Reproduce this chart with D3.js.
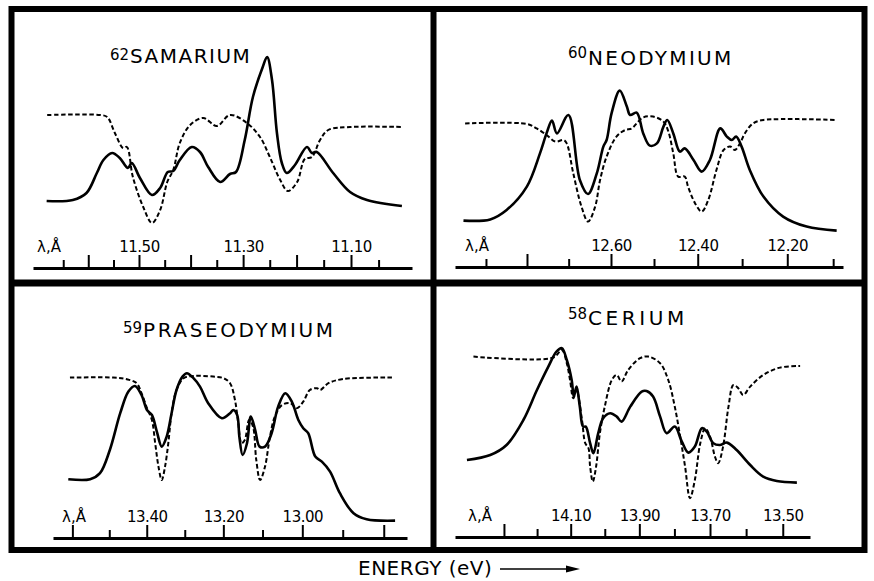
<!DOCTYPE html>
<html>
<head>
<meta charset="utf-8">
<script src="https://cdn.jsdelivr.net/npm/d3@7"></script>
<style>
  body { margin: 0; background: #fff; }
  svg { display: block; font-family: "DejaVu Sans", sans-serif; }
</style>
</head>
<body>
<svg id="chart" width="874" height="581"></svg>
<script>
var HC = 12398.4; // eV*Angstrom

// 62 Samarium (energy in eV, intensity arb.)
var smSolidE = [1061.2, 1066.0, 1068.5, 1070.4, 1071.6, 1073.2, 1074.6, 1076.1, 1076.8, 1078.3, 1080.5, 1082.0, 1083.4, 1084.4, 1085.6, 1087.8, 1089.3, 1090.8, 1093.0, 1094.8, 1095.9, 1097.5, 1099.0, 1100.8, 1101.6, 1102.5, 1103.4, 1104.3, 1105.2, 1106.7, 1108.9, 1109.8, 1110.7, 1113.7, 1116.8, 1119.9, 1126.3];
var smSolidI = [19.5, 20, 23.5, 33.5, 40, 43.5, 41, 36, 38.5, 31, 22.5, 26, 34, 34.5, 40, 46.5, 44, 36.5, 29, 33, 34, 50, 71.5, 86.5, 91.5, 80, 53.5, 38.5, 33.5, 37.5, 46.5, 43.5, 44, 33.5, 24, 20, 17];
var smDashE = [1061.3, 1071.0, 1072.3, 1073.7, 1075.2, 1075.9, 1077.0, 1078.9, 1080.5, 1082.0, 1083.3, 1084.4, 1085.6, 1087.5, 1089.9, 1092.4, 1094.8, 1097.9, 1100.3, 1102.1, 1104.0, 1105.4, 1107.1, 1108.5, 1109.8, 1111.3, 1112.8, 1116.8, 1126.5];
var smDashI = [62.5, 62.5, 61.5, 53.5, 46, 46.5, 31.5, 16.5, 8.5, 15, 29, 35, 48.5, 57.5, 61, 57, 62.5, 58.5, 51.5, 41.5, 30, 24.5, 29, 40.5, 41.5, 50, 55, 56.5, 56.5];
var smMinor = [11.65, 11.55, 11.45, 11.35, 11.25, 11.15, 11.05];
var smMajor = [11.60, 11.50, 11.40, 11.30, 11.20, 11.10];
var smLabels = [11.50, 11.30, 11.10];

// 60 Neodymium
var ndSolidE = [957.0, 961.9, 964.9, 968.6, 971.0, 972.2, 973.2, 974.1, 976.2, 978.3, 979.8, 981.4, 982.6, 983.2, 984.1, 985.6, 986.9, 987.5, 988.7, 989.9, 991.1, 992.4, 993.6, 994.3, 995.4, 996.6, 997.5, 999.1, 1000.6, 1002.1, 1004.0, 1005.2, 1006.1, 1006.9, 1007.9, 1009.4, 1011.9, 1015.5, 1019.8, 1025.3];
var ndSolidI = [9.7, 10.3, 15, 26.7, 43.3, 53.3, 59.7, 53.3, 62.5, 30, 23, 33.3, 46.7, 50, 63.3, 74.7, 66.7, 62.5, 63.7, 53.3, 47.2, 48.3, 56.7, 60, 53.3, 44.2, 45.8, 40, 34.2, 40, 55.8, 51.7, 50, 51.7, 46.7, 35, 21.7, 11.7, 6.7, 4.7];
var ndDashE = [957.3, 968.6, 970.4, 972.2, 973.8, 975.3, 975.9, 977.1, 978.6, 979.8, 981.1, 982.0, 983.2, 985.0, 986.6, 987.8, 988.7, 989.9, 991.7, 993.6, 994.5, 995.4, 996.3, 997.5, 998.1, 999.4, 1000.6, 1001.8, 1003.3, 1004.6, 1005.8, 1006.7, 1007.6, 1008.5, 1010.0, 1011.9, 1025.3];
var ndDashI = [58.3, 58, 55.8, 52.5, 49.2, 50, 48.3, 33.3, 16.7, 9.2, 16.7, 30, 41.7, 51.7, 55, 55.8, 58.3, 61.3, 61.7, 59.2, 54.2, 43.3, 31.7, 31.7, 26.7, 18.3, 14.2, 20, 35, 45, 46.7, 45, 48.3, 53.3, 58.3, 60, 60];
var ndMinor = [12.90, 12.70, 12.50, 12.30, 12.10];
var ndMajor = [12.80, 12.60, 12.40, 12.20];
var ndLabels = [12.60, 12.40, 12.20];

// 59 Praseodymium
var prSolidE = [910.9, 914.9, 916.7, 918.5, 920.4, 921.9, 923.1, 924.3, 925.3, 926.2, 927.1, 928.0, 928.9, 929.8, 930.7, 931.8, 932.6, 933.8, 935.0, 936.5, 939.0, 940.5, 941.1, 941.8, 942.2, 942.8, 943.6, 944.3, 945.1, 945.9, 946.9, 948.1, 949.3, 950.6, 951.8, 953.0, 953.9, 954.8, 956.1, 957.3, 958.8, 960.6, 963.1, 965.5, 970.7];
var prSolidI = [25.4, 25.4, 28.4, 40, 58.4, 69.2, 72, 67.5, 60, 57.5, 49.2, 41.7, 46.7, 58.4, 70, 76.7, 78.4, 75.9, 71.7, 63.4, 55.9, 58.4, 60, 57.5, 46.7, 37.5, 43.4, 56.7, 50, 41.7, 41.7, 48.4, 61.7, 68.4, 64.2, 55, 50.9, 48.4, 36.7, 34.2, 29.2, 18.4, 8.4, 5.4, 4.7];
var prDashE = [911.2, 919.1, 921.6, 923.4, 924.3, 925.3, 926.2, 926.8, 927.4, 928.0, 928.6, 929.2, 929.8, 930.7, 932.0, 933.8, 937.4, 939.3, 940.5, 941.4, 942.0, 942.6, 943.2, 944.0, 944.7, 945.3, 946.0, 946.9, 947.8, 948.7, 950.0, 951.5, 952.7, 953.9, 955.1, 956.4, 957.0, 958.5, 961.2, 970.4];
var prDashI = [76.2, 76.2, 75.4, 73.4, 68.4, 60.9, 55, 43.4, 31.7, 25, 31.7, 43.4, 58.4, 70, 75.9, 77, 76.7, 75.9, 73.4, 65, 53.4, 43.4, 45, 55, 51.7, 35, 25, 31.7, 46.7, 56.7, 62.5, 63.4, 60.9, 64.2, 70, 70.9, 70, 73.4, 75.5, 76.2];
var prMinor = [13.50, 13.30, 13.10, 12.90];
var prMajor = [13.60, 13.40, 13.20, 13.00, 12.80];
var prLabels = [13.40, 13.20, 13.00];

// 58 Cerium
var ceSolidE = [860.2, 864.5, 867.5, 870.6, 873.1, 875.2, 876.7, 877.7, 878.6, 879.5, 879.9, 880.4, 881.0, 881.6, 882.1, 882.9, 883.5, 884.4, 885.3, 886.6, 887.8, 888.7, 890.3, 892.4, 893.3, 894.5, 895.8, 897.0, 898.5, 899.8, 901.0, 902.2, 903.5, 904.4, 905.6, 906.8, 908.1, 909.9, 912.4, 914.8, 917.3, 921.0];
var ceSolidI = [35, 37.5, 42.5, 55, 70, 81.7, 89.2, 90.9, 85, 75, 66.7, 71.7, 61.7, 51.7, 51.7, 43.4, 38.4, 48.4, 55.9, 58.4, 56.7, 54.2, 61.7, 69.2, 69.5, 66.7, 56.7, 48.4, 51.7, 44.2, 38.7, 41.7, 50.9, 49.2, 43.4, 42.5, 43.7, 40, 32.5, 26.7, 24.5, 23.7];
var ceDashE = [861.4, 876.1, 877.7, 878.6, 879.2, 879.8, 880.4, 881.4, 882.0, 882.6, 882.9, 883.4, 884.0, 884.7, 885.6, 886.9, 887.8, 888.7, 889.9, 892.1, 893.6, 895.8, 897.3, 898.5, 899.5, 900.4, 901.3, 902.2, 903.2, 904.1, 905.0, 905.9, 906.5, 907.4, 908.4, 909.3, 910.2, 911.1, 912.4, 914.8, 917.9, 921.6];
var ceDashI = [86.7, 86.2, 90, 83.4, 75, 65.9, 70, 55, 43.4, 40.9, 31.7, 24.2, 31.7, 48.4, 61.7, 75, 77.5, 74.2, 80, 85.9, 86.7, 83.4, 75, 61.7, 46.7, 31.7, 15.9, 25, 43.4, 50.9, 46.7, 36.7, 33.4, 41.7, 61.7, 72.5, 70.9, 67.5, 71.7, 77.5, 81.2, 82];
var ceMinor = [14.20, 14.00, 13.80, 13.60];
var ceMajor = [14.30, 14.10, 13.90, 13.70, 13.50];
var ceLabels = [14.10, 13.90, 13.70, 13.50];

function zip(e, v) {
  return e.map(function (d, i) { return [d, v[i]]; });
}

var panels = [
  { z: "62", name: "SAMARIUM", solid: zip(smSolidE, smSolidI), dash: zip(smDashE, smDashI),
    minor: smMinor, major: smMajor, labels: smLabels,
    eDomain: [1058.7, 1128.15], xRange: [33, 412], yRange: [240, 40], axisY: 268,
    supY: 60, titleX: 130, titleY: 63, spacing: 1.5, lamX: 37 },
  { z: "60", name: "NEODYMIUM", solid: zip(ndSolidE, ndSolidI), dash: zip(ndDashE, ndDashI),
    minor: ndMinor, major: ndMajor, labels: ndLabels,
    eDomain: [955.45, 1026.46], xRange: [455, 843], yRange: [240, 40], axisY: 267,
    supY: 58, titleX: 588, titleY: 65, spacing: 2.3, lamX: 465 },
  { z: "59", name: "PRASEODYMIUM", solid: zip(prSolidE, prSolidI), dash: zip(prDashE, prDashI),
    minor: prMinor, major: prMajor, labels: prLabels,
    eDomain: [908.1, 972.88], xRange: [53, 407], yRange: [530, 330], axisY: 538,
    supY: 333, titleX: 143, titleY: 337, spacing: 2.6, lamX: 62 },
  { z: "58", name: "CERIUM", solid: zip(ceSolidE, ceSolidI), dash: zip(ceDashE, ceDashI),
    minor: ceMinor, major: ceMajor, labels: ceLabels,
    eDomain: [858.0, 923.42], xRange: [455, 810], yRange: [530, 330], axisY: 537,
    supY: 319, titleX: 588, titleY: 325, spacing: 3.6, lamX: 468 }
];

var svg = d3.select("#chart");
var fmt = d3.format(".2f");

panels.forEach(function (p) {
  var x = d3.scaleLinear().domain(p.eDomain).range(p.xRange);
  var y = d3.scaleLinear().domain([0, 100]).range(p.yRange);
  var g = svg.append("g");

  var line = d3.line()
    .x(function (d) { return x(d[0]); })
    .y(function (d) { return y(d[1]); })
    .curve(d3.curveCatmullRom.alpha(0.5));

  g.append("path").datum(p.dash)
    .attr("d", line)
    .attr("fill", "none")
    .attr("stroke", "#000")
    .attr("stroke-width", 2)
    .attr("stroke-dasharray", "4.5,2.5");

  g.append("path").datum(p.solid)
    .attr("d", line)
    .attr("fill", "none")
    .attr("stroke", "#000")
    .attr("stroke-width", 2.6)
    .attr("stroke-linejoin", "round");

  // wavelength ticks on the energy scale
  var labelSet = new Set(p.labels.map(fmt));
  var minorAxis = d3.axisTop(x)
    .tickValues(p.minor.map(function (l) { return HC / l; }))
    .tickSize(8).tickSizeOuter(0).tickFormat("");
  var majorAxis = d3.axisTop(x)
    .tickValues(p.major.map(function (l) { return HC / l; }))
    .tickSize(13).tickSizeOuter(0).tickPadding(3)
    .tickFormat(function (e) {
      var s = fmt(HC / e);
      return labelSet.has(s) ? s : "";
    });

  var ag = g.append("g").attr("transform", "translate(0," + p.axisY + ")");
  ag.append("g").call(minorAxis).select(".domain").remove();
  var mg = ag.append("g").call(majorAxis);
  ag.selectAll(".tick line").attr("stroke-width", 2);
  mg.select(".domain").attr("stroke-width", 3);
  mg.selectAll("text")
    .attr("font-family", "DejaVu Sans, sans-serif")
    .attr("font-size", 15)
    .attr("letter-spacing", -0.5)
    .attr("fill", "#000");

  ag.append("text")
    .attr("x", p.lamX).attr("y", -16)
    .attr("font-size", 15)
    .text("λ,Å");

  // title with atomic number
  g.append("text")
    .attr("x", p.titleX - 1).attr("y", p.supY)
    .attr("text-anchor", "end")
    .attr("font-size", 15)
    .text(p.z);
  g.append("text")
    .attr("x", p.titleX).attr("y", p.titleY)
    .attr("font-size", 20)
    .attr("letter-spacing", p.spacing)
    .text(p.name);
});

// frame
svg.append("rect")
  .attr("x", 11.5).attr("y", 9)
  .attr("width", 853).attr("height", 541)
  .attr("fill", "none").attr("stroke", "#000").attr("stroke-width", 6);
svg.append("line")
  .attr("x1", 433.5).attr("x2", 433.5).attr("y1", 9).attr("y2", 550)
  .attr("stroke", "#000").attr("stroke-width", 6);
svg.append("line")
  .attr("x1", 11.5).attr("x2", 864.5).attr("y1", 283).attr("y2", 283)
  .attr("stroke", "#000").attr("stroke-width", 7);

// energy label and arrow
svg.append("text")
  .attr("x", 358).attr("y", 575)
  .attr("font-size", 20)
  .attr("letter-spacing", 0.5)
  .text("ENERGY (eV)");
svg.append("line")
  .attr("x1", 500).attr("x2", 570).attr("y1", 569).attr("y2", 569)
  .attr("stroke", "#000").attr("stroke-width", 1.5);
svg.append("path")
  .attr("d", "M566,565.5 L580,569 L566,572.5 Z")
  .attr("fill", "#000");
</script>
</body>
</html>
